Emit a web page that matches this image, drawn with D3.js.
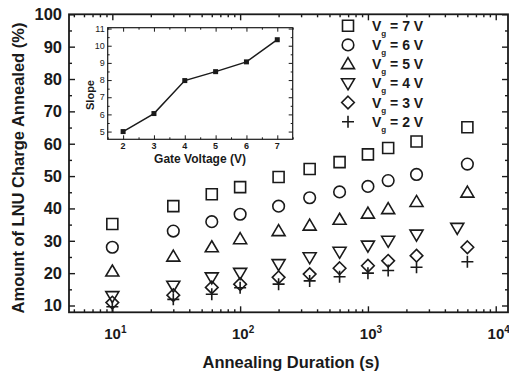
<!DOCTYPE html>
<html><head><meta charset="utf-8">
<script src="https://cdn.jsdelivr.net/npm/d3@7/dist/d3.min.js"></script>
<style>
html,body{margin:0;padding:0;background:#fff;}
svg{display:block;font-family:"Liberation Sans",Arial,sans-serif;font-weight:bold;}
</style></head><body>
<svg id="chart" width="509" height="375"></svg>
<script>
// ---- data ----
const durations   = [10, 30, 60, 100, 200, 350, 600, 1000, 1440, 2400, 6000];
const durations4V = [10, 30, 60, 100, 200, 350, 600, 1000, 1440, 2400, 5000];
const vg7 = [35.2, 40.7, 44.4, 46.6, 49.7, 52.2, 54.3, 56.7, 58.7, 60.7, 65.1];
const vg6 = [28.0, 33.0, 35.9, 38.2, 40.7, 43.3, 45.1, 46.8, 48.6, 50.5, 53.7];
const vg5 = [20.5, 25.1, 28.0, 30.5, 33.0, 34.7, 36.5, 38.4, 39.8, 42.0, 44.9];
const vg4 = [12.9, 16.1, 18.7, 20.1, 22.8, 24.9, 26.6, 28.5, 30.0, 31.9, 34.0];
const vg3 = [10.9, 13.2, 15.6, 16.6, 18.7, 19.7, 21.5, 22.3, 23.8, 25.4, 28.0];
const vg2 = [9.6, 11.9, 13.5, 15.5, 16.6, 17.6, 18.9, 20.0, 20.8, 21.8, 23.5];
const seriesNames = ["7", "6", "5", "4", "3", "2"];
const yTicks = [10, 20, 30, 40, 50, 60, 70, 80, 90, 100];
const xDecades = [10, 100, 1000, 10000];
const xExponents = ["1", "2", "3", "4"];
// inset data
const gateVoltage = [2, 3, 4, 5, 6, 7];
const slope = [5.0, 6.05, 7.97, 8.49, 9.06, 10.35];
const insetYTicks = [5, 6, 7, 8, 9, 10, 11];
const insetXTicks = [2, 3, 4, 5, 6, 7];

// ---- layout ----
const svg = d3.select("#chart");
const ink = "#1a1a1a";
const L = 69, R = 508, T = 14.3, B = 312.3;
const x = d3.scaleLog().domain([Math.pow(10, 0.661), Math.pow(10, 4.096)]).range([L, R]);
const y = d3.scaleLinear().domain([7.9, 100]).range([B, T]);

// minor ticks
const xMinor = [];
for (let e = 0; e <= 4; e++) for (let m = 2; m <= 9; m++) {
  const v = m * Math.pow(10, e);
  if (v > x.domain()[0] && v < x.domain()[1]) xMinor.push(v);
}
const yMinor = d3.range(15, 100, 10);

const axesG = svg.append("g");
function styleAxis(g){ g.selectAll("path.domain").remove(); g.selectAll("line").attr("stroke", ink).attr("stroke-width", 1.4); g.selectAll("text").remove(); }
axesG.append("g").attr("transform", `translate(0,${B})`).call(d3.axisBottom(x).tickValues(xDecades).tickSize(-6)).call(styleAxis);
axesG.append("g").attr("transform", `translate(0,${B})`).call(d3.axisBottom(x).tickValues(xMinor).tickSize(-3)).call(styleAxis);
axesG.append("g").attr("transform", `translate(0,${T})`).call(d3.axisTop(x).tickValues(xDecades).tickSize(-6)).call(styleAxis);
axesG.append("g").attr("transform", `translate(0,${T})`).call(d3.axisTop(x).tickValues(xMinor).tickSize(-3)).call(styleAxis);
axesG.append("g").attr("transform", `translate(${L},0)`).call(d3.axisLeft(y).tickValues(yTicks).tickSize(-6)).call(styleAxis);
axesG.append("g").attr("transform", `translate(${L},0)`).call(d3.axisLeft(y).tickValues(yMinor).tickSize(-3)).call(styleAxis);
axesG.append("g").attr("transform", `translate(${R},0)`).call(d3.axisRight(y).tickValues(yTicks).tickSize(-6)).call(styleAxis);
axesG.append("g").attr("transform", `translate(${R},0)`).call(d3.axisRight(y).tickValues(yMinor).tickSize(-3)).call(styleAxis);
svg.append("rect").attr("x", L).attr("y", T).attr("width", R - L).attr("height", B - T)
  .attr("fill", "none").attr("stroke", ink).attr("stroke-width", 1.8);

// tick labels
svg.append("g").selectAll("text").data(yTicks).join("text")
  .attr("x", 62).attr("y", d => y(d)).attr("dy", "0.36em").attr("text-anchor", "end")
  .attr("font-size", 16.5).attr("fill", ink).text(d => d);
const xl = svg.append("g").selectAll("text").data(xDecades).join("text")
  .attr("x", d => x(d) + 3).attr("y", 339).attr("text-anchor", "middle")
  .attr("font-size", 15).attr("fill", ink);
xl.append("tspan").text("10");
xl.append("tspan").attr("dy", -6).attr("font-size", 10).text((d, i) => xExponents[i]);

// axis titles
svg.append("text").attr("x", 291).attr("y", 368).attr("text-anchor", "middle")
  .attr("font-size", 16.5).attr("fill", ink).text("Annealing Duration (s)");
svg.append("text").attr("transform", "translate(24,168) rotate(-90)").attr("text-anchor", "middle")
  .attr("font-size", 16.5).attr("fill", ink).text("Amount of LNU Charge Annealed (%)");

// ---- symbols ----
const sym = {
  square: {draw(c){ const r = 5.5; c.rect(-r, -r, 2*r, 2*r); }},
  circle: {draw(c){ const r = 5.8; c.moveTo(r, 0); c.arc(0, 0, r, 0, 2*Math.PI); }},
  up:     {draw(c){ c.moveTo(0, -6.5); c.lineTo(6.5, 4.5); c.lineTo(-6.5, 4.5); c.closePath(); }},
  down:   {draw(c){ c.moveTo(0, 6.5); c.lineTo(6.5, -4.5); c.lineTo(-6.5, -4.5); c.closePath(); }},
  diamond:{draw(c){ const r = 6.3; c.moveTo(0, -r); c.lineTo(r, 0); c.lineTo(0, r); c.lineTo(-r, 0); c.closePath(); }},
  plus:   {draw(c){ const r = 6; c.moveTo(-r, 0); c.lineTo(r, 0); c.moveTo(0, -r); c.lineTo(0, r); }}
};
const series = [
  {name: seriesNames[0], xs: durations,   ys: vg7, s: sym.square},
  {name: seriesNames[1], xs: durations,   ys: vg6, s: sym.circle},
  {name: seriesNames[2], xs: durations,   ys: vg5, s: sym.up},
  {name: seriesNames[3], xs: durations4V, ys: vg4, s: sym.down},
  {name: seriesNames[4], xs: durations,   ys: vg3, s: sym.diamond},
  {name: seriesNames[5], xs: durations,   ys: vg2, s: sym.plus}
];
const pts = svg.append("g");
series.forEach(sr => {
  pts.append("g").selectAll("path").data(sr.ys).join("path")
    .attr("transform", (d, i) => `translate(${x(sr.xs[i])},${y(d)})`)
    .attr("d", d3.symbol().type(sr.s)())
    .attr("fill", "none").attr("stroke", ink).attr("stroke-width", 1.6);
});

// legend
const lg = svg.append("g").selectAll("g").data(series).join("g")
  .attr("transform", (d, i) => `translate(348,${25.7 + i * 19.2})`);
lg.append("path").attr("d", d => d3.symbol().type(d.s)()).attr("fill", "none").attr("stroke", ink).attr("stroke-width", 1.6);
const lt = lg.append("text").attr("x", 24).attr("y", 5).attr("font-size", 14).attr("fill", ink);
lt.append("tspan").text("V");
lt.append("tspan").attr("dy", 5).attr("font-size", 8).text("g");
lt.append("tspan").attr("dy", -5).text(d => " = " + d.name + " V");

// ---- inset ----
const iL = 107.7, iR = 292.7, iT = 27.7, iB = 139.3;
const ix = d3.scaleLinear().domain([1.5, 7.5]).range([iL, iR]);
const iy = d3.scaleLinear().domain([4.55, 11.05]).range([iB, iT]);
const ixMinor = d3.range(1.5, 7.6, 0.5).filter(v => v % 1 !== 0);
const iyMinor = d3.range(4.5, 11.1, 0.5).filter(v => v % 1 !== 0 && v > 4.55);
const ig = svg.append("g");
function iStyle(g){ g.selectAll("path.domain").remove(); g.selectAll("line").attr("stroke", ink).attr("stroke-width", 1); g.selectAll("text").remove(); }
ig.append("g").attr("transform", `translate(0,${iB})`).call(d3.axisBottom(ix).tickValues(insetXTicks).tickSize(-4)).call(iStyle);
ig.append("g").attr("transform", `translate(0,${iB})`).call(d3.axisBottom(ix).tickValues(ixMinor).tickSize(-2)).call(iStyle);
ig.append("g").attr("transform", `translate(0,${iT})`).call(d3.axisTop(ix).tickValues(insetXTicks).tickSize(-4)).call(iStyle);
ig.append("g").attr("transform", `translate(0,${iT})`).call(d3.axisTop(ix).tickValues(ixMinor).tickSize(-2)).call(iStyle);
ig.append("g").attr("transform", `translate(${iL},0)`).call(d3.axisLeft(iy).tickValues(insetYTicks).tickSize(-4)).call(iStyle);
ig.append("g").attr("transform", `translate(${iL},0)`).call(d3.axisLeft(iy).tickValues(iyMinor).tickSize(-2)).call(iStyle);
ig.append("g").attr("transform", `translate(${iR},0)`).call(d3.axisRight(iy).tickValues(insetYTicks).tickSize(-4)).call(iStyle);
ig.append("g").attr("transform", `translate(${iR},0)`).call(d3.axisRight(iy).tickValues(iyMinor).tickSize(-2)).call(iStyle);
ig.append("rect").attr("x", iL).attr("y", iT).attr("width", iR - iL).attr("height", iB - iT)
  .attr("fill", "none").attr("stroke", ink).attr("stroke-width", 1.2);
ig.append("g").selectAll("text").data(insetYTicks).join("text")
  .attr("x", iL - 3).attr("y", d => iy(d)).attr("dy", "0.35em").attr("text-anchor", "end")
  .attr("font-size", 9).attr("font-weight", "normal").attr("fill", ink).text(d => d);
ig.append("g").selectAll("text").data(insetXTicks).join("text")
  .attr("x", d => ix(d)).attr("y", iB + 10).attr("text-anchor", "middle")
  .attr("font-size", 9).attr("fill", ink).text(d => d);
ig.append("text").attr("x", 200).attr("y", 163).attr("text-anchor", "middle")
  .attr("font-size", 12).attr("fill", ink).text("Gate Voltage (V)");
ig.append("text").attr("transform", "translate(94,95) rotate(-90)").attr("text-anchor", "middle")
  .attr("font-size", 11).attr("fill", ink).text("Slope");
ig.append("path").datum(gateVoltage.map((g, i) => [g, slope[i]]))
  .attr("d", d3.line().x(d => ix(d[0])).y(d => iy(d[1])))
  .attr("fill", "none").attr("stroke", ink).attr("stroke-width", 1.5);
ig.append("g").selectAll("rect").data(slope).join("rect")
  .attr("x", (d, i) => ix(gateVoltage[i]) - 2.5).attr("y", d => iy(d) - 2.5)
  .attr("width", 5).attr("height", 5).attr("fill", ink);
</script>
</body></html>
